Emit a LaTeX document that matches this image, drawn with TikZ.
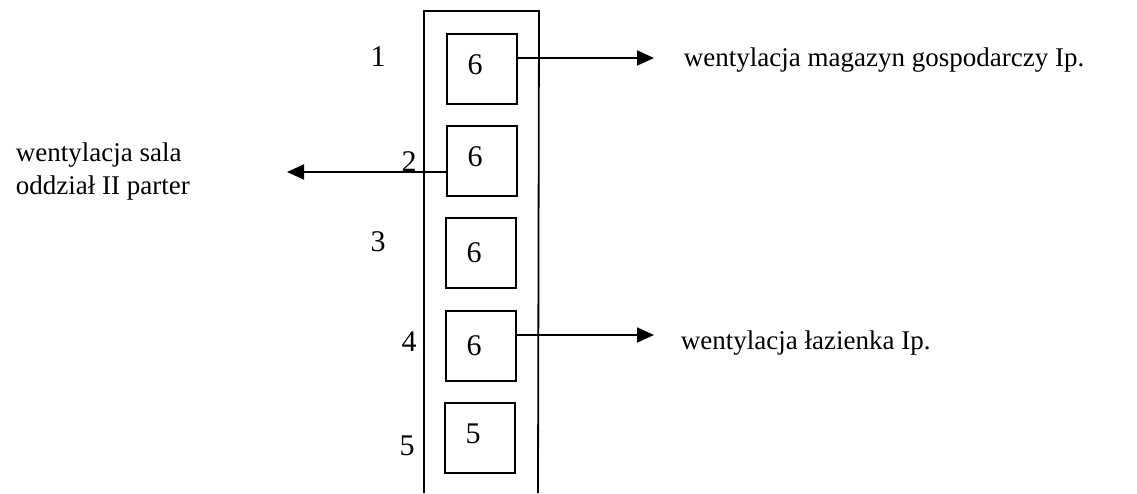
\documentclass[tikz,border=0pt]{standalone}
\usepackage{fontspec}
\setmainfont{Liberation Serif}
\usetikzlibrary{arrows.meta}
\begin{document}
\begin{tikzpicture}[x=1pt,y=-1pt,
  line width=1.8pt,
  cell/.style={draw,minimum width=70pt,minimum height=70pt,inner sep=0pt},
  num/.style={font=\fontsize{30}{33}\selectfont,inner sep=0pt},
  lbl/.style={font=\fontsize{27}{33}\selectfont,inner sep=0pt,anchor=west,align=left},
  arr/.style={-{Triangle[length=17pt,width=15pt]}}]
\useasboundingbox (0,0) rectangle (1137,493);
% column
\draw (424,493) -- (424,11) -- (539,11) -- (538,493);
% cells
\node[cell,label={[num,xshift=-7pt,yshift=4pt]center:6}] (b1) at (482,69) {};
\node[cell,label={[num,xshift=-7pt,yshift=4pt]center:6}] (b2) at (482,161) {};
\node[cell,label={[num,xshift=-7pt,yshift=0pt]center:6}] (b3) at (481,253) {};
\node[cell,label={[num,xshift=-7pt,yshift=0pt]center:6}] (b4) at (481,346) {};
\node[cell,label={[num,xshift=-7pt,yshift=4pt]center:5}] (b5) at (480,438) {};
% numbers
\node[num] (n1) at (378,57) {1};
\node[num] (n2) at (409,162) {2};
\node[num] (n3) at (378,242) {3};
\node[num] (n4) at (409,342) {4};
\node[num] (n5) at (407,446) {5};
% arrow ends
\coordinate (e1) at (654,58);
\coordinate (e2) at (287,172);
\coordinate (e4) at (654,335);
\draw[arr] (b1.east |- e1) -- (e1);
\draw[arr] (b2.west |- e2) -- (e2);
\draw[arr] (b4.east |- e4) -- (e4);
% texts
\node[lbl] (t1) at (683,60) {wentylacja magazyn gospodarczy Ip.};
\node[lbl] (t2) at (15,172) {wentylacja sala\\oddział II parter};
\node[lbl] (t4) at (680,343) {wentylacja łazienka Ip.};
\end{tikzpicture}
\end{document}
